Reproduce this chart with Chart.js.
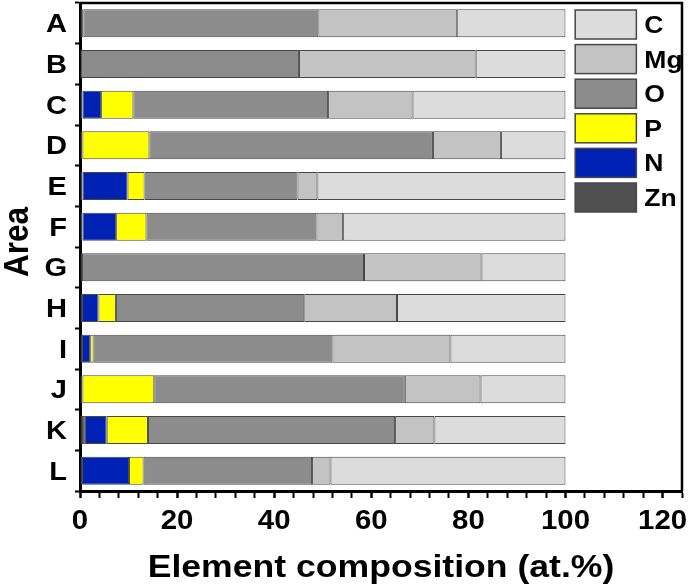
<!DOCTYPE html>
<html>
<head>
<meta charset="utf-8">
<script src="https://cdn.jsdelivr.net/npm/chart.js@4.4.1/dist/chart.umd.min.js"></script>
<style>
  body { margin: 0; background: #fff; }
  canvas { display: block; }
</style>
</head>
<body>
<canvas id="chart" width="688" height="588"></canvas>
<script>
const areas = ['A', 'B', 'C', 'D', 'E', 'F', 'G', 'H', 'I', 'J', 'K', 'L'];

// at.% per area, stacked left to right: Zn, N, P, O, Mg, C
const zn = [0.7, 0, 0.5, 0.5, 0.5, 0.5, 0.4, 0.4, 0.4, 0.5, 1.0, 0.4];
const n = [0, 0, 3.85, 0, 9.3, 6.95, 0, 3.4, 1.7, 0, 4.5, 9.7];
const p = [0, 0, 6.65, 13.8, 3.5, 6.25, 0, 3.6, 0.7, 14.8, 8.5, 3.0];
const o = [48.4, 45.1, 40.1, 58.4, 31.5, 35.0, 58.1, 38.8, 49.2, 51.6, 50.9, 34.7];
const mg = [28.6, 36.4, 17.4, 14.0, 4.1, 5.5, 24.2, 19.1, 24.3, 15.6, 8.1, 3.8];
const c = [22.3, 18.5, 31.5, 13.3, 51.1, 45.8, 17.3, 34.7, 23.7, 17.5, 27.0, 48.4];

const xLabels = [0, 20, 40, 60, 80, 100, 120];

const font = "'Liberation Sans', Arial, sans-serif";
// the original figure is a bit wider than tall, so its text looks stretched
const wide = 1.14;

const makeSet = (label, data, color) => ({
    label: label,
    data: data,
    backgroundColor: color,
    borderColor: '#474747',
    borderWidth: 1,
    borderSkipped: false,
    barPercentage: 0.69,
    categoryPercentage: 1,
});

function drawText(ctx, text, x, y, size, align, sx, rotate) {
    ctx.save();
    ctx.translate(x, y);
    ctx.scale(sx, 1);
    if (rotate) ctx.rotate(-Math.PI / 2);
    ctx.font = 'bold ' + size + 'px ' + font;
    ctx.fillStyle = '#000';
    ctx.textAlign = align;
    ctx.textBaseline = 'alphabetic';
    ctx.fillText(text, 0, 0);
    ctx.restore();
}

// frame, axis labels and titles
const framePlugin = {
    id: 'frame',
    afterDraw(chart) {
        const { ctx, chartArea, scales } = chart;
        ctx.save();
        ctx.strokeStyle = '#000';
        ctx.lineWidth = 2.5;
        ctx.beginPath();
        ctx.moveTo(chartArea.left, chartArea.top);
        ctx.lineTo(chartArea.right, chartArea.top);
        ctx.lineTo(chartArea.right, chartArea.bottom);
        ctx.stroke();
        ctx.restore();

        areas.forEach((a, i) => {
            drawText(ctx, a, chartArea.left - 13, scales.y.getPixelForValue(i) + 9, 25.5, 'right', wide);
        });
        xLabels.forEach((v) => {
            drawText(ctx, String(v), scales.x.getPixelForValue(v), chartArea.bottom + 38, 28, 'center', 1.05);
        });
        drawText(ctx, 'Element composition (at.%)', (chartArea.left + chartArea.right) / 2,
            chartArea.bottom + 86, 31.5, 'center', 1.13);
        drawText(ctx, 'Area', 28, 242, 31.5, 'center', wide, true);
    },
};

// legend sits inside the plot, to the right of the bars
const insideLegend = {
    id: 'insideLegend',
    afterDatasetsDraw(chart) {
        const { ctx, chartArea } = chart;
        const x = chart.scales.x;
        const boxLeft = x.getPixelForValue(102);
        const boxRight = x.getPixelForValue(114.6);
        const sets = chart.data.datasets.slice().reverse();
        sets.forEach((ds, i) => {
            const top = chartArea.top + 7 + i * 34.6;
            ctx.save();
            ctx.fillStyle = ds.backgroundColor;
            ctx.fillRect(boxLeft, top, boxRight - boxLeft, 29);
            ctx.strokeStyle = '#474747';
            ctx.lineWidth = 1.5;
            ctx.strokeRect(boxLeft, top, boxRight - boxLeft, 29);
            ctx.restore();
            drawText(ctx, ds.label, boxRight + 8, top + 23, 23.3, 'left', wide);
        });
    },
};

const ctx = document.getElementById('chart').getContext('2d');

new Chart(ctx, {
    type: 'bar',
    data: {
        labels: areas,
        datasets: [
            makeSet('Zn', zn, '#505050'),
            makeSet('N', n, '#0022b4'),
            makeSet('P', p, '#ffff00'),
            makeSet('O', o, '#8c8c8c'),
            makeSet('Mg', mg, '#c3c3c3'),
            makeSet('C', c, '#dcdcdc'),
        ],
    },
    options: {
        responsive: false,
        animation: false,
        indexAxis: 'y',
        layout: {
            padding: { top: 3, right: 6, left: 0, bottom: 0 },
        },
        plugins: {
            legend: { display: false },
            tooltip: { enabled: false },
        },
        scales: {
            x: {
                stacked: true,
                min: 0,
                max: 124,
                afterFit: (scale) => { scale.height = 97; },
                border: { color: '#000', width: 3 },
                grid: {
                    drawOnChartArea: false,
                    drawTicks: true,
                    tickLength: 7,
                    tickColor: '#000',
                    tickWidth: (c) => (xLabels.includes(c.tick.value) ? 2.5 : 2),
                },
                ticks: {
                    display: false,
                    stepSize: 4,
                    autoSkip: false,
                },
            },
            y: {
                stacked: true,
                afterFit: (scale) => { scale.width = 80; },
                border: { color: '#000', width: 3 },
                grid: {
                    drawOnChartArea: false,
                    offset: true,
                    tickLength: 5,
                    tickColor: '#000',
                    tickWidth: 2,
                },
                ticks: { display: false },
            },
        },
    },
    plugins: [framePlugin, insideLegend],
});
</script>
</body>
</html>
